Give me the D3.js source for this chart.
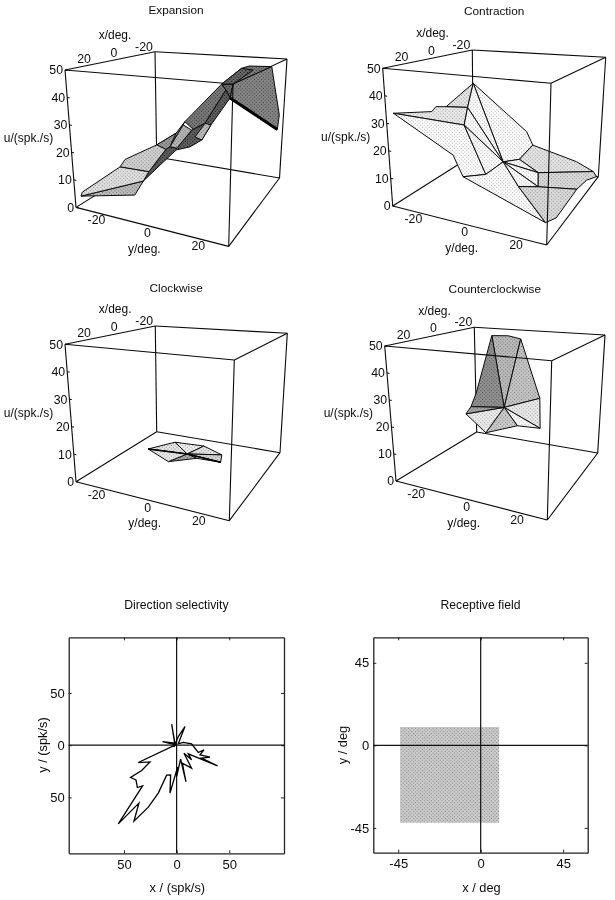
<!DOCTYPE html><html><head><meta charset="utf-8">
<style>html,body{margin:0;background:#fff}svg{display:block;filter:blur(0.3px)}text{font-family:"Liberation Sans",Arial,sans-serif;fill:#0c0c0c}</style>
<script src="https://cdn.jsdelivr.net/npm/d3@7"></script></head><body><svg id="c" width="615" height="900"></svg>
<script>
// ---------- data: response surfaces (x deg, y deg, u spk/s) ----------
const expX=[28.5,26.8,12.7,8.7,0,2.1,8.9,15.8,20.9,-5.3,-5,1.5,2.9,-2.8,-15.8,-24.3,-26.6,-29.5,-15.1,-26.5,-28.6,-26.8,-10.1,-4.3,-0.1,0.7,-1.9,4.1,6.6,11.1,-11.6,-3.5,-3.9,3.7];
const expY=[-28.5,-28.8,-20.7,-20.7,-12,-7.1,-10.9,-9.8,-10.9,-2.7,1,-1.5,-4.9,-5.2,7.8,12.3,14.6,23.5,13.1,16.5,28.6,28.8,14.1,6.3,4.1,7.3,9.9,3.9,-0.6,-5.1,11.6,-2.5,0.9,-1.7];
const expU=[4,4.9,11.9,13.6,18.2,17.8,10.7,9.5,5.8,27.2,24.7,20.1,19.4,23,40.9,46.1,46.8,46.5,41.5,45.2,26.8,21.4,37.1,27.9,23.5,23,28.3,20.9,19.8,14.8,39.7,26.4,24.7,19.5];
const expFacets=[[4,13,9,31,12],[9,14,30,23,10],[14,30,22,18],[14,15,16,17,18],[15,19,18,14],[18,17,20,21,22],[6,5,12,33,32,10,23,30,22,26,25,27,28,29,7],[4,5,12,13],[31,32,33,12],[24,23,26,25],[0,7,8],[0,1,2,6,7],[2,3,4,5,6]];
const expTone=[.5,.42,.36,.42,.34,.47,.32,.55,.66,.68,.68,.82,.76];
const expThick=[[22,21]];

const conX=[28.2,12.2,11.1,8.5,-2,9.5,10.5,20.3,19,17.8,11.6,-0.1,-8.2,-18.9,-17,-28.2,-28.1,-10.5,-7.1,-17.2,-29.4,-23.2,29,18,0.9];
const conY=[-28.2,-22.2,-21.1,-18.5,-13,-9.5,-10.5,-10.3,-9,-7.8,-1.6,0.1,3.2,3.9,2,28.2,20.1,10.5,12.1,25.2,29.4,27.2,29,29.5,7.1];
const conU=[33.6,32,33.8,33.6,41.4,34.6,28.1,19.5,15.2,11.5,11.6,12.9,11.7,13.9,19.8,2.7,5.7,6.8,2.9,0,0.2,1.3,6.4,4.3,5.1];
const conFacets=[[3,4,5],[0,1,2,3,5,6],[4,14,13,12,11],[4,11,5],[5,11,6],[0,6,10,9,8,7],[6,11,10],[13,16,15,17,12],[12,11,17],[11,18,17],[17,15,20,21,19,18],[10,11,24,22,9],[11,18,24],[24,18,19,23,22]];
const conTone=[.84,.86,.95,.96,.96,.95,.96,.84,.95,.95,.8,.95,.95,.8];

const cwX=[10.5,-3.7,-12.2,-10.9,-7.1,3.6,11.7,-0.5];
const cwY=[-10.5,-6.3,2.2,10.9,12.1,6.4,-1.7,0.5];
const cwU=[10.2,9,5.9,4.3,3.1,7.5,7.5,6.7];
const cwFacets=[[0,1,7],[1,2,7],[2,3,7],[3,4,7],[7,4,5],[7,5,6],[0,7,6]];
const cwTone=[.84,.88,.84,.78,.84,.6,.86];

const ccwX=[-6.7,-11.2,-14.7,-10.4,-7.2,6.5,15.4,10.6,9.2,0,4.4];
const ccwY=[-8.3,-3.8,-0.3,10.4,12.2,8.5,-0.4,-10.6,-9.2,0,-9.4];
const ccwU=[51.1,50.7,49.1,26.9,16.3,20.8,19.3,23.5,26.1,24.8,30.1];
const ccwFacets=[[0,1,2,9],[0,9,8,10],[2,3,9],[3,4,9],[9,4,5],[9,5,6],[7,9,6],[8,9,7]];
const ccwTone=[.68,.52,.72,.86,.97,.74,.87,.6];

const surfaceTitles=["Expansion","Contraction","Clockwise","Counterclockwise"];
const uTicks=[0,10,20,30,40,50], xTicks=[-20,0,20], yTicks=[-20,0,20];

// direction tuning curve (spk/s)
const dirX=[0,-1.6,-36.4,-25.3,-33.2,-43.7,-38.6,-37.3,-32.3,-55.4,-35.8,-40.5,-26.9,-17.4,-9.5,-5.7,-6.3,0.9,0,3.8,8.9,5.4,14.2,7,14.2,11.1,38.9,23.7,31.7,22.2,26,20.6,14.2,6.3,1.6,7.9,1.6,-1.6,-4.7,-1.6,-13.3,0];
const dirY=[0,0,-16.6,-16,-24.2,-30.9,-33.2,-40.5,-38.9,-75.3,-55.5,-72.7,-59.3,-45.9,-28.7,-28.4,-45.9,-21.1,-30,-13.4,-35.1,-17.2,-22,-7.7,-14,-8.3,-19.8,-12.4,-11.5,-9.3,-4.5,-7,1.3,2.6,1.3,17.9,8.3,0.3,20.1,1.9,3.5,0];
const dirTicks=[-50,0,50];
// receptive field extent (deg)
const rfX=[-44,10.1], rfY=[-42.2,10];
const rfTicks=[-45,0,45];

// ---------- layout ----------
const boxes=[
 {A:[65,70],B:[155,51.7],C:[287,59],D:[233,84],E:[76,207.4],F:[156.7,157],G:[279.5,178],H:[228.7,246.4],titleY:10,front:[["D","H"],["E","H"],["H","G"]]},
 {A:[382.7,68.3],B:[472.3,50],C:[605.7,57.3],D:[551,83.3],E:[392.7,206],F:[473.3,155],G:[598.3,176.7],H:[546.7,245],titleY:11,front:[["D","H"],["A","D"],["D","C"],["E","H"],["H","G"]]},
 {A:[65,344.3],B:[155.3,326],C:[287.3,333.3],D:[234.3,360],E:[76,481.7],F:[156.7,431.7],G:[280,452.7],H:[229.3,520.7],titleY:288,front:[["D","H"],["A","D"],["D","C"],["E","H"],["H","G"]]},
 {A:[384.7,346],B:[474.3,327.3],C:[605,335],D:[551.7,360.7],E:[396,481],F:[476.7,432],G:[597.7,453],H:[547.3,520],titleY:289,front:[["D","H"],["A","D"],["D","C"],["E","H"],["H","G"]]}
];
const surfaces=[
 {x:expX,y:expY,u:expU,f:expFacets,t:expTone,thick:expThick},
 {x:conX,y:conY,u:conU,f:conFacets,t:conTone,thick:[]},
 {x:cwX,y:cwY,u:cwU,f:cwFacets,t:cwTone,thick:[[7,4],[0,7]]},
 {x:ccwX,y:ccwY,u:ccwU,f:ccwFacets,t:ccwTone,thick:[]}
];
const allEdges=[["A","B"],["B","C"],["C","D"],["D","A"],["E","F"],["F","G"],["G","H"],["H","E"],["A","E"],["B","F"],["C","G"],["D","H"]];
const INK="#0a0a0a";
const svg=d3.select("#c");
const defs=svg.append("defs");

function tonePattern(t){
  const id="ht"+Math.round(t*100);
  if(!defs.select("#"+id).empty())return `url(#${id})`;
  const s=2.5, base=Math.min(1,t+.07), dot=Math.max(0,t-.26), g=v=>{const c=Math.round(v*255);return `rgb(${c},${c},${c})`;};
  const p=defs.append("pattern").attr("id",id).attr("patternUnits","userSpaceOnUse").attr("width",s).attr("height",s).attr("patternTransform","rotate(45)");
  p.append("rect").attr("width",s).attr("height",s).attr("fill",g(base));
  p.append("circle").attr("cx",s/2).attr("cy",s/2).attr("r",.65).attr("fill",g(dot));
  return `url(#${id})`;
}
const lineGen=d3.line();
const lerp=(t,a,b)=>[d3.interpolateNumber(a[0],b[0])(t),d3.interpolateNumber(a[1],b[1])(t)];
const sX=d3.scaleLinear().domain([30,-30]).range([0,1]);
const sY=d3.scaleLinear().domain([-30,30]).range([0,1]);
const sU=d3.scaleLinear().domain([0,50]).range([0,1]);

boxes.forEach((b,i)=>{
  const g=svg.append("g");
  const P=(x,y,u)=>{const a=sX(x),c=sY(y),e=sU(u);
    return lerp(e,lerp(a,lerp(c,b.E,b.H),lerp(c,b.F,b.G)),lerp(a,lerp(c,b.A,b.D),lerp(c,b.B,b.C)));};
  const isFront=e=>b.front.some(f=>f[0]==e[0]&&f[1]==e[1]||f[0]==e[1]&&f[1]==e[0]);
  const drawEdge=e=>g.append("line").attr("x1",b[e[0]][0]).attr("y1",b[e[0]][1]).attr("x2",b[e[1]][0]).attr("y2",b[e[1]][1]).attr("stroke",INK).attr("stroke-width",1.1);
  allEdges.filter(e=>!isFront(e)).forEach(drawEdge);
  const s=surfaces[i];
  const sg=g.append("g");
  sg.selectAll("path.f").data(s.f).join("path").attr("class","f")
    .attr("d",f=>lineGen(f.map(k=>P(s.x[k],s.y[k],s.u[k])))+"Z")
    .attr("fill",(f,j)=>tonePattern(s.t[j])).attr("stroke","#0a0a0a").attr("stroke-width",1).attr("stroke-linejoin","round");
  sg.selectAll("path.t").data(s.thick).join("path").attr("class","t")
    .attr("d",f=>lineGen(f.map(k=>P(s.x[k],s.y[k],s.u[k])))).attr("stroke","#000").attr("fill","none").attr("stroke-width",i==0?3:1.5);
  allEdges.filter(isFront).forEach(drawEdge);
  // small ticks
  uTicks.forEach(v=>{const p=P(30,-30,v);
    g.append("line").attr("x1",p[0]).attr("x2",p[0]+2.5).attr("y1",p[1]).attr("y2",p[1]+0.4).attr("stroke",INK);
    g.append("text").attr("x",p[0]-2).attr("y",p[1]).attr("dy","0.35em").attr("text-anchor","end").attr("font-size",12.3).text(v);});
  xTicks.forEach(v=>{const p=P(v,-30,50);
    g.append("text").attr("x",p[0]+4).attr("y",p[1]-8.5).attr("dy","0.35em").attr("text-anchor","middle").attr("font-size",12.3).text(v);});
  yTicks.forEach(v=>{const p=P(30,v,0);
    g.append("text").attr("x",p[0]-5).attr("y",p[1]+6).attr("dy","0.35em").attr("text-anchor","middle").attr("font-size",12.3).text(v);});
  const mid=(a,c)=>[(a[0]+c[0])/2,(a[1]+c[1])/2];
  const ttl=(p,t,fs)=>g.append("text").attr("x",p[0]).attr("y",p[1]).attr("dy","0.35em").attr("text-anchor","middle").attr("font-size",fs).text(t);
  const mx=mid(b.A,b.B), my=mid(b.E,b.H), mu=mid(b.A,b.E);
  ttl([mx[0]+5,mx[1]-26],"x/deg.",12);
  ttl([my[0]-8,my[1]+22],"y/deg.",12);
  ttl([mu[0]-42,mu[1]-0.5],"u/(spk./s)",12);
  ttl([(b.A[0]+b.C[0])/2,b.titleY],surfaceTitles[i],11.8);
});

// ---------- flat panels ----------
function frame(o){
  const g=svg.append("g");
  const x=d3.scaleLinear().domain(o.xd).range([o.l,o.r]);
  const y=d3.scaleLinear().domain(o.yd).range([o.b,o.t]);
  const fmt=o.fmt;
  const axes=[[d3.axisBottom(x),true],[d3.axisLeft(y),true],[d3.axisTop(x),false],[d3.axisRight(y),false]];
  axes.forEach(([ax,lab],k)=>{
    const gg=g.append("g").attr("transform",k==0?`translate(0,${o.b})`:k==1?`translate(${o.l},0)`:k==2?`translate(0,${o.t})`:`translate(${o.r},0)`);
    ax.tickValues(o.ticks).tickSizeInner(-3).tickSizeOuter(0).tickPadding(k==0?6:4).tickFormat(lab?fmt:"");
    gg.call(ax);
    gg.select(".domain").attr("stroke","#222").attr("stroke-width",1.3);
    gg.selectAll(".tick line").attr("stroke","#222");
    gg.selectAll("text").attr("font-size",13).attr("font-family",'"Liberation Sans",Arial,sans-serif').attr("fill","#0c0c0c");
  });
  g.append("text").attr("x",(o.l+o.r)/2).attr("y",605).attr("dy","0.35em").attr("text-anchor","middle").attr("font-size",12.2).text(o.title);
  g.append("text").attr("x",(o.l+o.r)/2+o.xlx).attr("y",888).attr("dy","0.35em").attr("text-anchor","middle").attr("font-size",12.8).text(o.xl);
  g.append("text").attr("transform",`translate(${o.yx},745) rotate(-90)`).attr("dy","0.35em").attr("text-anchor","middle").attr("font-size",12.8).text(o.yl);
  return {g,x,y};
}
const absFmt=d=>Math.abs(d);
const d=frame({l:68.7,r:284,t:637.3,b:853.3,xd:[-102.5,102],yd:[-103.5,103.3],ticks:dirTicks,fmt:absFmt,title:"Direction selectivity",xl:"x / (spk/s)",yl:"y / (spk/s)",xlx:1,yx:42.7});
const axisLines=(F)=>{
  F.g.append("line").attr("x1",F.x(0)).attr("x2",F.x(0)).attr("y1",F.y.range()[0]).attr("y2",F.y.range()[1]).attr("stroke","#111").attr("stroke-width",1.2);
  F.g.append("line").attr("y1",F.y(0)).attr("y2",F.y(0)).attr("x1",F.x.range()[0]).attr("x2",F.x.range()[1]).attr("stroke","#111").attr("stroke-width",1.2);
};
axisLines(d);
d.g.append("path").datum(dirX.map((v,k)=>[v,dirY[k]])).attr("d",d3.line().x(p=>d.x(p[0])).y(p=>d.y(p[1])))
  .attr("fill","none").attr("stroke","#000").attr("stroke-width",1.3).attr("stroke-linejoin","miter");

const r=frame({l:373.3,r:587.7,t:637.3,b:852.7,xd:[-58.6,58.4],yd:[-58.5,58.9],ticks:rfTicks,fmt:v=>v,title:"Receptive field",xl:"x / deg",yl:"y / deg",xlx:1,yx:342.3});
r.g.insert("rect",":first-child").attr("x",r.x(rfX[0])).attr("width",r.x(rfX[1])-r.x(rfX[0])).attr("y",r.y(rfY[1])).attr("height",r.y(rfY[0])-r.y(rfY[1]))
  .attr("fill",tonePattern(.74));
axisLines(r);
</script></body></html>
